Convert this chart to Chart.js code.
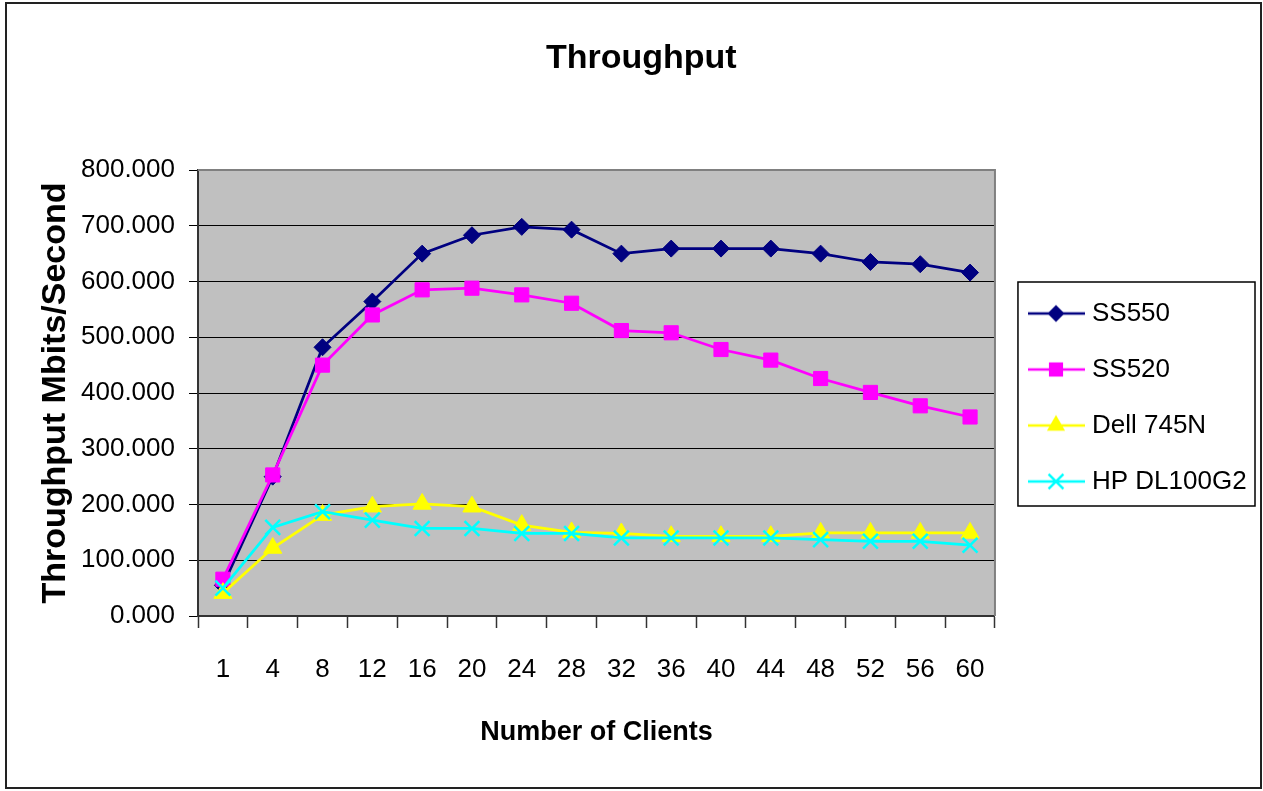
<!DOCTYPE html>
<html>
<head>
<meta charset="utf-8">
<script src="https://cdn.jsdelivr.net/npm/chart.js@4.4.0/dist/chart.umd.min.js"></script>
<style>
  html, body { margin: 0; padding: 0; background: #fff; }
  #wrap { position: relative; width: 1263px; height: 791px; }
</style>
</head>
<body>
<div id="wrap"><canvas id="c" width="1263" height="791"></canvas></div>
<script>
const categories = ['1','4','8','12','16','20','24','28','32','36','40','44','48','52','56','60'];
const ss550 = [55, 250, 482, 564, 650, 683, 698, 693, 650, 659, 659, 659, 650, 635, 631, 616];
const ss520 = [66, 253, 450, 540, 585, 588, 576, 561, 512, 508, 478, 459, 426, 401, 377, 357];
const dell745n = [41, 122, 181, 196, 201, 196, 163, 150, 148, 143, 143, 143, 149, 149, 149, 149];
const hpdl100g2 = [50, 159, 187, 172, 157, 157, 148, 148, 140, 140, 140, 140, 137, 134, 134, 127];
const seriesNames = ['SS550', 'SS520', 'Dell 745N', 'HP DL100G2'];
const yTicks = [0, 100, 200, 300, 400, 500, 600, 700, 800];

const SANS = "'Liberation Sans', Arial, sans-serif";

function legendIcon(color, style, radius) {
  const cv = document.createElement('canvas');
  cv.width = 74; cv.height = 24;
  const g = cv.getContext('2d');
  const cy = 12, cx = 41;
  g.strokeStyle = color; g.lineWidth = 2.5;
  g.beginPath(); g.moveTo(13, cy); g.lineTo(70, cy); g.stroke();
  g.fillStyle = color;
  g.beginPath();
  if (style === 'rectRot') {
    g.moveTo(cx - radius, cy); g.lineTo(cx, cy - radius); g.lineTo(cx + radius, cy); g.lineTo(cx, cy + radius); g.closePath(); g.fill();
  } else if (style === 'rect') {
    const s = radius * Math.SQRT1_2;
    g.fillRect(cx - s, cy - s, 2 * s, 2 * s);
  } else if (style === 'triangle') {
    g.moveTo(cx, cy - radius); g.lineTo(cx + radius * Math.sin(2 * Math.PI / 3), cy - radius * Math.cos(2 * Math.PI / 3));
    g.lineTo(cx - radius * Math.sin(2 * Math.PI / 3), cy - radius * Math.cos(2 * Math.PI / 3)); g.closePath(); g.fill();
  } else if (style === 'crossRot') {
    const d = radius * Math.SQRT1_2;
    g.moveTo(cx - d, cy - d); g.lineTo(cx + d, cy + d); g.moveTo(cx - d, cy + d); g.lineTo(cx + d, cy - d); g.stroke();
  }
  return cv;
}

const styles = [
  { color: '#000080', pt: 'rectRot', r: 8.5 },
  { color: '#FF00FF', pt: 'rect', r: 10 },
  { color: '#FFFF00', pt: 'triangle', r: 10.5 },
  { color: '#00FFFF', pt: 'crossRot', r: 10.5 }
];
const values = [ss550, ss520, dell745n, hpdl100g2];

const datasets = values.map((v, i) => ({
  label: seriesNames[i],
  data: v,
  borderColor: styles[i].color,
  backgroundColor: styles[i].color,
  pointBackgroundColor: styles[i].color,
  pointBorderColor: styles[i].color,
  pointStyle: styles[i].pt,
  pointRadius: styles[i].r,
  pointHoverRadius: styles[i].r,
  pointBorderWidth: styles[i].pt === 'crossRot' ? 2.5 : 1,
  borderWidth: 2.75,
  tension: 0,
  order: 3 - i,
  legendIcon: legendIcon(styles[i].color, styles[i].pt, styles[i].r)
}));

const decor = {
  id: 'decor',
  beforeDraw(chart) {
    const ctx = chart.ctx, a = chart.chartArea;
    ctx.save();
    ctx.fillStyle = '#fff';
    ctx.fillRect(0, 0, chart.width, chart.height);
    ctx.fillStyle = '#C0C0C0';
    ctx.fillRect(a.left, a.top, a.right - a.left, a.bottom - a.top);
    ctx.strokeStyle = '#222';
    ctx.lineWidth = 2;
    ctx.strokeRect(6, 3, 1255, 785);
    ctx.restore();
  },
  beforeDatasetsDraw(chart) {
    const ctx = chart.ctx, a = chart.chartArea;
    ctx.save();
    ctx.strokeStyle = '#808080';
    ctx.lineWidth = 2;
    ctx.beginPath();
    ctx.moveTo(a.left, a.top); ctx.lineTo(a.right, a.top); ctx.lineTo(a.right, a.bottom);
    ctx.stroke();
    ctx.restore();
  },
  afterDraw(chart) {
    const lg = chart.legend;
    if (!lg || !lg.legendHitBoxes || !lg.legendHitBoxes.length) return;
    const hb = lg.legendHitBoxes;
    const first = hb[0], last = hb[hb.length - 1];
    const ctx = chart.ctx;
    ctx.save();
    ctx.strokeStyle = '#000';
    ctx.lineWidth = 1.5;
    const left = first.left - 7;
    const top = first.top - 18.5;
    const bottom = last.top + last.height + 11.5;
    const right = chart.width - 8;
    ctx.strokeRect(left, top, right - left, bottom - top);
    ctx.restore();
  }
};

Chart.defaults.color = '#000';

new Chart(document.getElementById('c'), {
  type: 'line',
  data: { labels: categories, datasets },
  options: {
    responsive: false,
    animation: false,
    events: [],
    layout: { padding: { left: 26, right: 6.4, top: 4, bottom: 0 } },
    plugins: {
      title: {
        display: true,
        text: 'Throughput',
        color: '#000',
        font: { family: SANS, size: 34, weight: 'bold' },
        padding: { top: 34.6, bottom: 90.6 }
      },
      legend: {
        position: 'right',
        align: 'center',
        labels: {
          color: '#000',
          font: { family: SANS, size: 26 },
          usePointStyle: true,
          pointStyleWidth: 54,
          padding: 30,
          sort: (a, b) => a.datasetIndex - b.datasetIndex,
          generateLabels(chart) {
            return chart.data.datasets.map((ds, i) => ({
              text: ds.label,
              datasetIndex: i,
              pointStyle: ds.legendIcon,
              fillStyle: ds.borderColor,
              strokeStyle: ds.borderColor,
              lineWidth: 0,
              hidden: false,
              fontColor: '#000'
            }));
          }
        }
      },
      tooltip: { enabled: false }
    },
    scales: {
      x: {
        type: 'category',
        offset: true,
        afterFit(scale) { scale.height = 175; },
        grid: { display: true, drawOnChartArea: false, drawTicks: true, tickLength: 12, offset: true, tickColor: '#333', tickWidth: 1.5 },
        border: { display: true, color: '#333', width: 2 },
        ticks: { font: { family: SANS, size: 26 }, color: '#000', padding: 26, maxRotation: 0, autoSkip: false },
        title: {
          display: true,
          text: 'Number of Clients',
          color: '#000',
          font: { family: SANS, size: 27, weight: 'bold' },
          padding: { top: 0, bottom: 42.5 }
        }
      },
      y: {
        type: 'linear',
        min: 0,
        max: 800,
        afterFit(scale) { scale.width = 172; },
        afterBuildTicks(scale) { scale.ticks = yTicks.map(v => ({ value: v })); },
        grid: {
          color: ctx => (ctx.tick && ctx.tick.value === 800) ? '#808080' : '#000',
          lineWidth: 1,
          drawTicks: true,
          tickLength: 9,
          tickColor: '#000'
        },
        border: { display: true, color: '#333', width: 2 },
        ticks: {
          font: { family: SANS, size: 26 },
          color: '#000',
          padding: 14,
          callback: v => Number(v).toFixed(3)
        },
        title: {
          display: true,
          text: 'Throughput Mbits/Second',
          color: '#000',
          font: { family: SANS, size: 34, weight: 'bold' },
          padding: { top: 9, bottom: 0 }
        }
      }
    }
  },
  plugins: [decor]
});
</script>
</body>
</html>
